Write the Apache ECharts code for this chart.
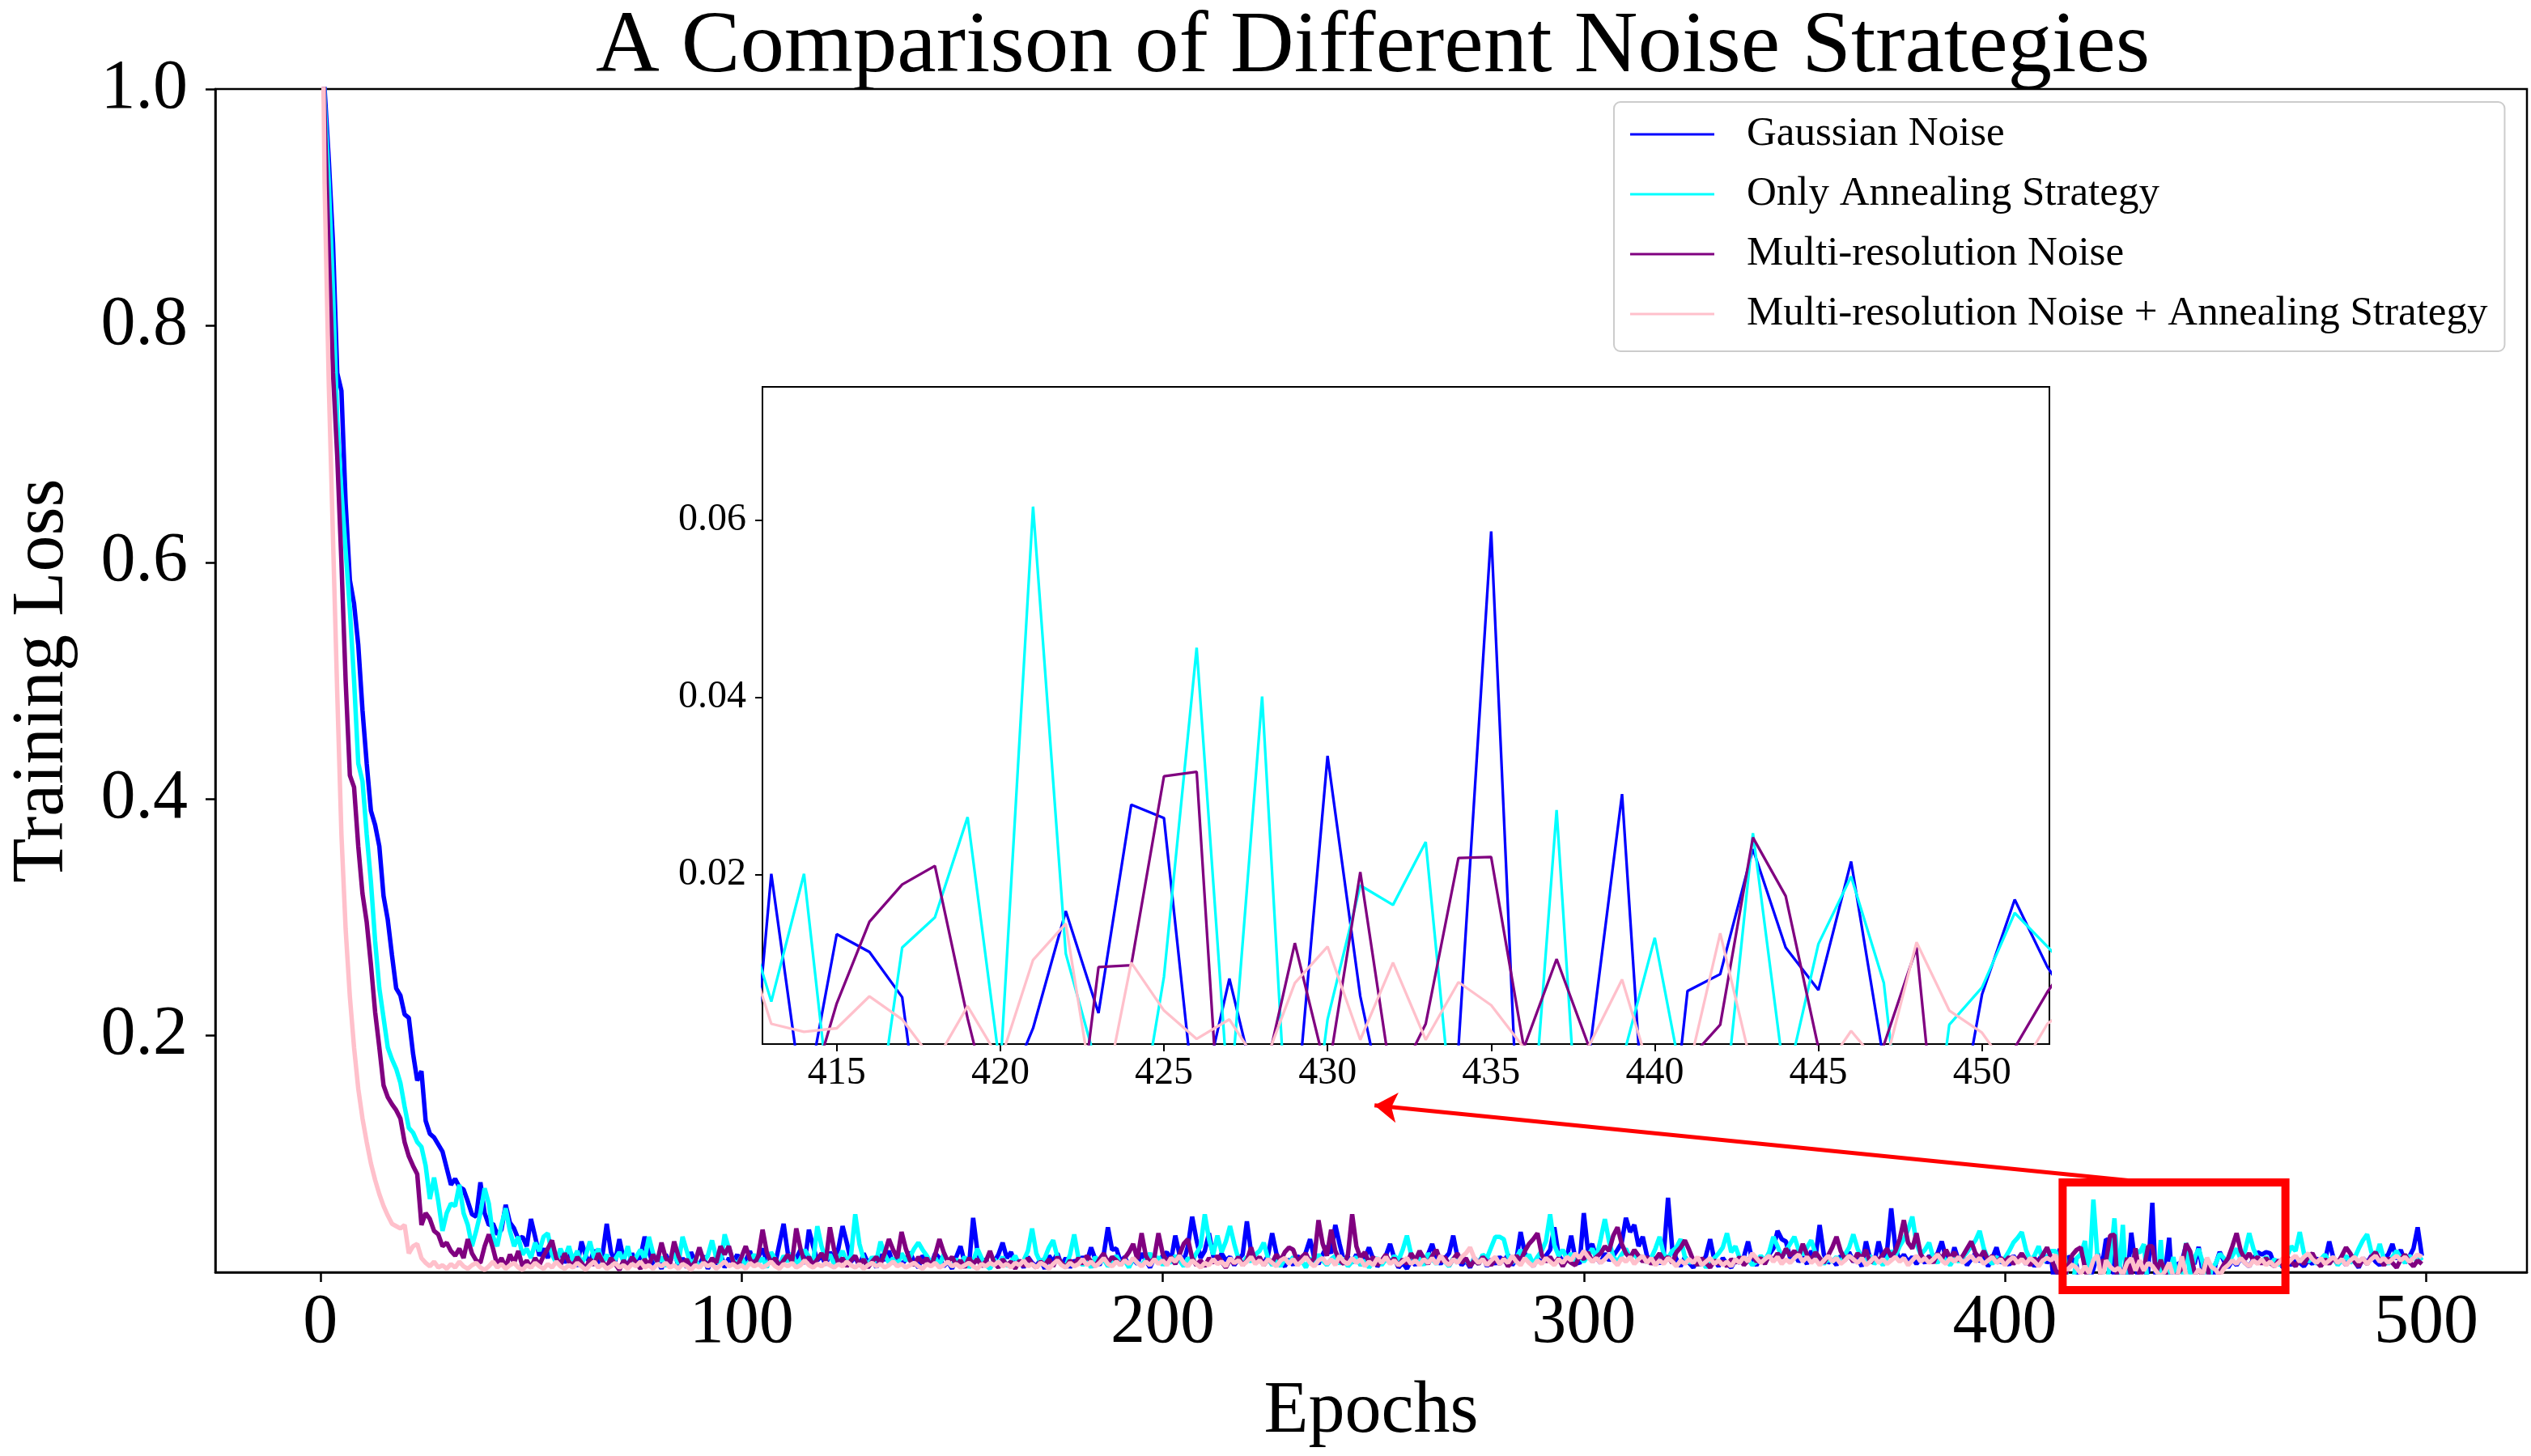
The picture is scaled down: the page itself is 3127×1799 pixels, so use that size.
<!DOCTYPE html>
<html><head><meta charset="utf-8">
<script src="https://cdn.jsdelivr.net/npm/echarts@6/dist/echarts.min.js"></script>
<style>html,body{margin:0;padding:0;background:#fff}#c{width:3127px;height:1799px}</style>
</head><body><div id="c"></div>
<script>
const titleText = 'A Comparison of Different Noise Strategies';
const seriesNames = ['Gaussian Noise', 'Only Annealing Strategy', 'Multi-resolution Noise', 'Multi-resolution Noise + Annealing Strategy'];
const seriesColors = ['#0000ff', '#00ffff', '#800080', '#ffc0cb'];

// Training loss per epoch (epochs 0..499)
const gaussian = [
1.08,1.0,0.94,0.87,0.76,0.745,0.65,0.585,0.565,0.53,
0.475,0.43,0.39,0.378,0.36,0.318,0.298,0.268,0.24,0.234,
0.218,0.215,0.185,0.162,0.17,0.128,0.117,0.114,0.108,0.102,
0.088,0.074,0.079,0.072,0.07,0.06,0.049,0.047,0.076,0.05,
0.04,0.041,0.032,0.036,0.057,0.042,0.037,0.028,0.03,0.022,
0.045,0.03,0.014,0.02,0.012,0.024,0.01,0.018,0.008,0.015,
0.012,0.005,0.026,0.014,0.008,0.019,0.006,0.015,0.041,0.017,
0.009,0.028,0.011,0.004,0.016,0.007,0.013,0.03,0.018,0.006,
0.01,0.003,0.015,0.008,0.019,0.005,0.012,0.004,0.017,0.009,
0.006,0.014,0.003,0.011,0.007,0.016,0.004,0.012,0.008,0.015,
0.005,0.01,0.018,0.006,0.013,0.02,0.009,0.015,0.007,0.024,
0.041,0.016,0.008,0.012,0.019,0.007,0.036,0.022,0.01,0.014,
0.006,0.017,0.011,0.02,0.039,0.025,0.009,0.013,0.005,0.016,
0.008,0.012,0.004,0.015,0.01,0.018,0.007,0.013,0.006,0.011,
0.017,0.009,0.004,0.014,0.01,0.006,0.016,0.012,0.005,0.009,
0.003,0.013,0.022,0.008,0.005,0.046,0.018,0.007,0.011,0.004,
0.009,0.015,0.025,0.012,0.017,0.006,0.01,0.004,0.013,0.008,
0.005,0.011,0.003,0.014,0.009,0.016,0.006,0.012,0.004,0.01,
0.007,0.013,0.009,0.021,0.011,0.006,0.015,0.038,0.019,0.02,
0.009,0.013,0.005,0.011,0.007,0.016,0.01,0.004,0.012,0.008,
0.014,0.017,0.01,0.031,0.015,0.009,0.022,0.047,0.028,0.012,
0.018,0.033,0.014,0.008,0.016,0.01,0.013,0.006,0.011,0.015,
0.043,0.017,0.009,0.012,0.007,0.014,0.033,0.016,0.008,0.005,
0.011,0.006,0.014,0.009,0.017,0.028,0.012,0.007,0.015,0.022,
0.016,0.04,0.024,0.01,0.013,0.008,0.015,0.006,0.012,0.021,
0.011,0.005,0.009,0.014,0.024,0.012,0.004,0.008,0.003,0.01,
0.006,0.013,0.008,0.015,0.024,0.011,0.007,0.012,0.016,0.031,
0.013,0.006,0.01,0.004,0.012,0.008,0.014,0.005,0.011,0.007,
0.013,0.009,0.015,0.006,0.011,0.034,0.016,0.01,0.005,0.012,
0.008,0.014,0.019,0.038,0.015,0.009,0.013,0.031,0.011,0.007,
0.05,0.018,0.024,0.012,0.008,0.016,0.01,0.014,0.019,0.025,
0.046,0.034,0.04,0.022,0.03,0.014,0.009,0.012,0.007,0.016,
0.063,0.02,0.011,0.005,0.013,0.008,0.004,0.01,0.006,0.014,
0.028,0.01,0.005,0.012,0.007,0.004,0.011,0.008,0.013,0.026,
0.01,0.006,0.012,0.009,0.015,0.02,0.035,0.028,0.026,0.012,
0.016,0.009,0.013,0.007,0.018,0.012,0.04,0.015,0.008,0.011,
0.006,0.014,0.01,0.017,0.009,0.012,0.005,0.026,0.011,0.008,
0.026,0.012,0.018,0.054,0.02,0.01,0.015,0.009,0.013,0.007,
0.012,0.008,0.014,0.01,0.016,0.026,0.012,0.007,0.021,0.01,
0.013,0.006,0.011,0.016,0.009,0.014,0.005,0.012,0.021,0.008,
0.011,0.006,0.014,0.009,0.013,0.007,0.012,0.005,0.01,0.016,
0.008,0.012,-0.021,0.0201,-0.0066,0.0133,0.0113,0.0062,-0.022,-0.014,
-0.0062,0.0027,0.0159,0.0044,0.0279,0.0264,-0.008,0.0083,-0.007,-0.0085,
0.0334,0.0063,-0.011,-0.006,0.0005,0.0587,-0.024,-0.015,-0.0002,0.0291,
-0.027,0.0069,0.0088,0.0229,0.0118,0.007,0.0215,-0.001,-0.012,-0.014,
0.0065,0.0172,0.0096,0.004,0.01,0.006,0.012,0.008,0.005,0.011,
0.017,0.015,0.017,0.016,0.006,0.01,0.004,0.009,0.006,0.012,
0.008,0.005,0.01,0.007,0.012,0.006,0.01,0.026,0.012,0.007,
0.011,0.006,0.013,0.009,0.004,0.012,0.008,0.014,0.009,0.006,
0.012,0.015,0.024,0.011,0.019,0.008,0.013,0.02,0.038,0.014
];
const annealing = [
1.1,0.99,0.92,0.83,0.72,0.66,0.61,0.56,0.5,0.43,
0.415,0.37,0.33,0.28,0.24,0.215,0.19,0.18,0.172,0.16,
0.14,0.122,0.118,0.11,0.106,0.09,0.062,0.08,0.06,0.035,
0.05,0.058,0.056,0.074,0.05,0.04,0.022,0.035,0.05,0.071,
0.058,0.03,0.022,0.04,0.054,0.035,0.022,0.03,0.015,0.02,
0.012,0.025,0.018,0.03,0.033,0.015,0.008,0.02,0.012,0.022,
0.01,0.018,0.007,0.014,0.026,0.012,0.02,0.008,0.015,0.005,
0.011,0.017,0.009,0.022,0.006,0.013,0.019,0.011,0.03,0.016,
0.008,0.013,0.005,0.01,0.016,0.007,0.03,0.018,0.006,0.011,
0.004,0.009,0.014,0.027,0.012,0.006,0.032,0.02,0.01,0.007,
0.013,0.005,0.01,0.015,0.008,0.012,0.004,0.017,0.011,0.006,
0.014,0.009,0.016,0.007,0.011,0.019,0.013,0.008,0.039,0.022,
0.01,0.015,0.007,0.012,0.018,0.009,0.014,0.049,0.024,0.011,
0.006,0.013,0.009,0.026,0.015,0.008,0.012,0.005,0.016,0.01,
0.013,0.02,0.025,0.019,0.014,0.008,0.012,0.006,0.015,0.009,
0.005,0.011,0.007,0.013,0.004,0.009,0.02,0.012,0.006,0.003,
0.011,0.007,0.013,0.005,0.009,0.014,0.006,0.01,0.018,0.037,
0.016,0.008,0.012,0.021,0.027,0.013,0.007,0.005,0.015,0.032,
0.012,0.006,0.01,0.004,0.013,0.008,0.011,0.005,0.009,0.014,
0.007,0.01,0.004,0.012,0.008,0.006,0.011,0.016,0.009,0.013,
0.006,0.011,0.008,0.014,0.01,0.005,0.012,0.009,0.016,0.022,
0.049,0.028,0.015,0.031,0.017,0.026,0.039,0.024,0.011,0.007,
0.013,0.009,0.015,0.018,0.025,0.012,0.006,0.01,0.005,0.011,
0.008,0.013,0.006,0.01,0.004,0.012,0.008,0.015,0.01,0.006,
0.011,0.014,0.007,0.012,0.005,0.009,0.013,0.006,0.01,0.004,
0.009,0.012,0.006,0.011,0.008,0.014,0.01,0.019,0.031,0.015,
0.008,0.012,0.006,0.016,0.011,0.007,0.013,0.009,0.005,0.012,
0.008,0.014,0.01,0.006,0.011,0.007,0.015,0.012,0.021,0.03,
0.03,0.028,0.014,0.008,0.012,0.019,0.01,0.015,0.007,0.013,
0.018,0.026,0.049,0.023,0.014,0.019,0.011,0.016,0.008,0.013,
0.009,0.014,0.02,0.012,0.028,0.045,0.026,0.013,0.009,0.015,
0.02,0.012,0.016,0.01,0.014,0.008,0.012,0.02,0.03,0.015,
0.012,0.018,0.021,0.028,0.013,0.008,0.011,0.006,0.01,0.004,
0.009,0.012,0.016,0.021,0.033,0.017,0.022,0.012,0.007,0.011,
0.006,0.009,0.014,0.01,0.017,0.03,0.022,0.013,0.018,0.024,
0.03,0.019,0.015,0.021,0.027,0.016,0.012,0.007,0.011,0.009,
0.013,0.008,0.015,0.021,0.032,0.02,0.012,0.009,0.014,0.007,
0.011,0.006,0.012,0.018,0.014,0.022,0.028,0.036,0.047,0.024,
0.015,0.019,0.025,0.012,0.008,0.014,0.01,0.006,0.012,0.009,
0.013,0.017,0.022,0.027,0.035,0.02,0.011,0.007,0.013,0.009,
0.012,0.018,0.025,0.029,0.034,0.019,0.01,0.014,0.022,0.009,
0.013,0.018,0.0179,0.0057,0.0201,-0.013,-0.014,0.0118,0.0152,0.0265,
-0.002,0.0615,0.0111,-0.0023,-0.0137,0.0085,0.0456,-0.0066,0.0401,-0.025,
0.0037,0.0188,0.0166,0.0237,-0.0143,-0.018,-0.0215,0.0273,-0.03,-0.001,
0.0129,-0.0064,-0.011,0.0247,-0.004,0.0122,0.0198,0.0078,-0.025,0.0031,
0.0073,0.0157,0.0119,0.008,0.014,0.02,0.011,0.018,0.033,0.02,
0.012,0.009,0.013,0.007,0.011,0.006,0.009,0.014,0.022,0.018,
0.034,0.016,0.009,0.012,0.007,0.011,0.015,0.009,0.013,0.006,
0.01,0.014,0.008,0.012,0.02,0.027,0.032,0.017,0.012,0.024,
0.011,0.007,0.013,0.018,0.012,0.008,0.014,0.011,0.015,0.01
];
const multiRes = [
1.12,0.98,0.86,0.76,0.69,0.6,0.5,0.42,0.41,0.36,
0.32,0.296,0.26,0.22,0.19,0.158,0.148,0.142,0.137,0.13,
0.11,0.098,0.09,0.083,0.04,0.05,0.045,0.035,0.032,0.022,
0.025,0.018,0.014,0.02,0.012,0.028,0.016,0.01,0.008,0.022,
0.032,0.02,0.006,0.012,0.004,0.015,0.008,0.018,0.005,0.01,
0.004,0.012,0.006,0.014,0.02,0.027,0.012,0.006,0.016,0.009,
0.005,0.013,0.008,0.003,0.011,0.006,0.016,0.009,0.004,0.012,
0.007,0.002,0.01,0.005,0.013,0.008,0.003,0.011,0.006,0.015,
0.009,0.025,0.012,0.007,0.026,0.014,0.006,0.011,0.004,0.009,
0.021,0.01,0.005,0.012,0.008,0.022,0.015,0.022,0.009,0.005,
0.013,0.022,0.011,0.006,0.014,0.036,0.017,0.008,0.012,0.005,
0.01,0.015,0.009,0.037,0.02,0.008,0.013,0.006,0.011,0.016,
0.009,0.038,0.019,0.007,0.012,0.005,0.01,0.014,0.006,0.011,
0.004,0.009,0.013,0.007,0.016,0.028,0.019,0.012,0.034,0.02,
0.01,0.006,0.013,0.008,0.012,0.005,0.015,0.028,0.017,0.009,
0.013,0.006,0.01,0.004,0.012,0.007,0.011,0.005,0.009,0.018,
0.008,0.004,0.011,0.006,0.009,0.003,0.01,0.005,0.012,0.007,
0.004,0.009,0.006,0.011,0.005,0.013,0.008,0.004,0.01,0.006,
0.012,0.007,0.014,0.009,0.005,0.011,0.016,0.008,0.013,0.01,
0.006,0.012,0.017,0.024,0.011,0.033,0.014,0.008,0.012,0.033,
0.016,0.009,0.013,0.007,0.015,0.024,0.028,0.012,0.006,0.01,
0.005,0.012,0.008,0.014,0.009,0.004,0.011,0.007,0.013,0.006,
0.01,0.021,0.009,0.013,0.006,0.011,0.008,0.015,0.01,0.017,
0.021,0.019,0.009,0.013,0.016,0.008,0.012,0.044,0.024,0.014,
0.036,0.018,0.01,0.007,0.015,0.049,0.022,0.012,0.017,0.008,
0.013,0.006,0.01,0.015,0.008,0.012,0.005,0.011,0.007,0.016,
0.01,0.018,0.012,0.007,0.014,0.019,0.009,0.013,0.006,0.011,
0.016,0.008,0.012,0.005,0.01,0.007,0.013,0.009,0.006,0.011,
0.007,0.012,0.005,0.009,0.014,0.01,0.018,0.024,0.028,0.033,
0.015,0.009,0.013,0.007,0.012,0.005,0.011,0.008,0.006,0.014,
0.011,0.017,0.009,0.013,0.016,0.022,0.018,0.031,0.038,0.024,
0.016,0.012,0.019,0.014,0.009,0.013,0.007,0.011,0.016,0.01,
0.013,0.008,0.017,0.021,0.027,0.019,0.01,0.006,0.012,0.008,
0.004,0.01,0.007,0.009,0.005,0.011,0.008,0.013,0.006,0.01,
0.015,0.009,0.012,0.007,0.014,0.01,0.016,0.012,0.02,0.014,
0.018,0.013,0.024,0.015,0.01,0.017,0.012,0.008,0.014,0.021,
0.03,0.018,0.011,0.014,0.009,0.016,0.012,0.019,0.008,0.013,
0.01,0.015,0.02,0.013,0.018,0.028,0.044,0.025,0.02,0.033,
0.015,0.01,0.013,0.008,0.016,0.011,0.019,0.012,0.017,0.01,
0.014,0.02,0.026,0.016,0.012,0.018,0.01,0.014,0.008,0.012,
0.009,0.013,0.007,0.011,0.016,0.01,0.006,0.012,0.008,0.015,
0.021,0.012,0.002,-0.004,-0.007,0.0055,0.0147,0.0189,0.021,0.0038,
-0.011,-0.012,-0.02,0.0096,0.0098,0.0311,0.0316,-0.026,-0.004,0.0123,
-0.0028,0.0203,-0.0043,0.0032,0.0219,0.022,0.0005,0.0105,0.0005,-0.008,
-0.01,-0.001,0.0031,0.0242,0.0176,0.0005,-0.008,0.0008,0.0118,-0.025,
-0.01,0.0005,0.0068,0.012,0.022,0.033,0.018,0.011,0.016,0.01,
0.013,0.007,0.012,0.008,0.005,0.01,0.006,0.013,0.009,0.005,
0.011,0.007,0.013,0.016,0.009,0.005,0.011,0.007,0.012,0.008,
0.014,0.021,0.016,0.009,0.005,0.011,0.007,0.013,0.017,0.01,
0.006,0.012,0.008,0.004,0.011,0.015,0.009,0.005,0.01,0.007
];
const multiResAnnealing = [
1.25,0.92,0.75,0.62,0.49,0.37,0.29,0.233,0.19,0.155,
0.13,0.11,0.092,0.078,0.066,0.056,0.048,0.041,0.039,0.037,
0.04,0.016,0.022,0.024,0.012,0.008,0.005,0.009,0.004,0.006,
0.003,0.007,0.004,0.009,0.005,0.003,0.006,0.008,0.004,0.002,
0.005,0.009,0.004,0.007,0.003,0.006,0.008,0.004,0.002,0.006,
0.004,0.008,0.005,0.003,0.007,0.004,0.009,0.005,0.003,0.006,
0.004,0.008,0.005,0.002,0.006,0.009,0.004,0.007,0.003,0.005,
0.008,0.004,0.006,0.003,0.007,0.005,0.009,0.004,0.006,0.003,
0.007,0.005,0.008,0.004,0.006,0.003,0.007,0.005,0.002,0.006,
0.004,0.008,0.005,0.007,0.003,0.006,0.009,0.005,0.007,0.004,
0.006,0.003,0.008,0.005,0.007,0.004,0.006,0.009,0.005,0.003,
0.007,0.005,0.008,0.004,0.006,0.01,0.006,0.004,0.007,0.005,
0.008,0.006,0.004,0.007,0.005,0.009,0.006,0.004,0.007,0.003,
0.006,0.008,0.005,0.007,0.004,0.006,0.009,0.005,0.007,0.004,
0.006,0.008,0.005,0.003,0.007,0.005,0.008,0.004,0.006,0.009,
0.005,0.007,0.004,0.006,0.008,0.005,0.003,0.007,0.005,0.008,
0.006,0.009,0.005,0.007,0.004,0.008,0.006,0.01,0.005,0.007,
0.004,0.008,0.006,0.003,0.007,0.01,0.006,0.004,0.008,0.005,
0.007,0.011,0.006,0.009,0.005,0.008,0.012,0.007,0.005,0.009,
0.006,0.01,0.007,0.012,0.008,0.005,0.009,0.006,0.011,0.007,
0.01,0.006,0.012,0.009,0.014,0.008,0.005,0.01,0.007,0.004,
0.008,0.006,0.011,0.007,0.009,0.005,0.012,0.008,0.01,0.006,
0.009,0.013,0.007,0.01,0.006,0.011,0.008,0.005,0.01,0.012,
0.007,0.011,0.006,0.009,0.013,0.008,0.005,0.01,0.012,0.007,
0.011,0.006,0.014,0.009,0.007,0.012,0.008,0.011,0.005,0.009,
0.006,0.012,0.008,0.013,0.007,0.01,0.006,0.009,0.012,0.007,
0.01,0.006,0.011,0.008,0.012,0.007,0.014,0.009,0.006,0.011,
0.008,0.013,0.016,0.021,0.012,0.008,0.011,0.006,0.01,0.013,
0.007,0.011,0.008,0.014,0.009,0.006,0.012,0.008,0.005,0.01,
0.007,0.012,0.009,0.006,0.011,0.008,0.013,0.01,0.016,0.012,
0.018,0.013,0.009,0.012,0.008,0.011,0.015,0.01,0.006,0.012,
0.009,0.013,0.007,0.011,0.014,0.008,0.012,0.006,0.01,0.007,
0.012,0.009,0.005,0.01,0.007,0.011,0.008,0.013,0.006,0.009,
0.012,0.007,0.01,0.006,0.009,0.005,0.011,0.008,0.013,0.009,
0.016,0.012,0.008,0.011,0.014,0.009,0.013,0.007,0.011,0.008,
0.012,0.015,0.009,0.013,0.008,0.011,0.006,0.01,0.014,0.009,
0.012,0.007,0.01,0.014,0.011,0.008,0.012,0.006,0.009,0.013,
0.008,0.011,0.007,0.01,0.013,0.009,0.012,0.006,0.01,0.014,
0.009,0.012,0.008,0.011,0.015,0.01,0.007,0.012,0.009,0.013,
0.008,0.011,0.014,0.009,0.012,0.007,0.01,0.013,0.008,0.011,
0.006,0.01,0.013,0.008,0.011,0.007,0.012,0.009,0.005,0.01,
0.012,0.01,0.0147,0.0032,0.0023,0.0027,0.0063,0.0037,-0.0012,0.0052,
-0.001,0.0104,0.0145,-0.0085,0.0101,0.0047,0.0015,0.0037,-0.002,0.0078,
0.0119,0.0014,0.0101,0.0014,0.0079,0.0053,0.0005,-0.004,0.0008,0.0082,
-0.004,-0.0025,0.0134,-0.0022,-0.005,-0.003,0.0024,-0.002,0.0124,0.0047,
0.0022,-0.003,0.0032,0.006,0.01,0.007,0.012,0.008,0.005,0.01,
0.007,0.011,0.006,0.009,0.005,0.008,0.012,0.007,0.011,0.014,
0.009,0.013,0.016,0.011,0.008,0.012,0.007,0.01,0.013,0.008,
0.011,0.006,0.01,0.013,0.009,0.012,0.007,0.011,0.014,0.009,
0.012,0.008,0.011,0.014,0.01,0.013,0.009,0.012,0.015,0.013
];

const xTicks = [0, 100, 200, 300, 400, 500];
const yTicks = [0.2, 0.4, 0.6, 0.8, 1.0];
const insetXTicks = [415, 420, 425, 430, 435, 440, 445, 450];
const insetYTicks = [0.02, 0.04, 0.06];
const mainXRange = [-24.95, 523.95];
const mainYRange = [0, 1];
const insetXRange = [412.73, 452.06];
const insetYRange = [0.00092, 0.075];
const insetEpochs = [411, 454];
// zoom box (data space of main axes) and arrow end points
const zoomBoxX = [413.7, 466.6];
const zoomBoxY = [-0.015, 0.0759];
const arrowFrom = [436.5, 0.075];
const arrowTo = [250.3, 0.141];

const allSeries = [gaussian, annealing, multiRes, multiResAnnealing];
const FONT = 'Liberation Serif';

const chart = echarts.init(document.getElementById('c'), null, {renderer: 'canvas', width: 3127, height: 1799});

const series = [];
allSeries.forEach((arr, k) => {
  series.push({
    name: seriesNames[k], type: 'line', xAxisIndex: 0, yAxisIndex: 0,
    data: arr.map((v, i) => [i, v]), symbol: 'none', showSymbol: false,
    lineStyle: {color: seriesColors[k], width: 5.5}, itemStyle: {color: seriesColors[k]},
    z: 2 + k, animation: false, silent: true
  });
});
allSeries.forEach((arr, k) => {
  const pts = [];
  arr.forEach((v, i) => { if (i >= insetEpochs[0] && i <= insetEpochs[1]) pts.push([i, v]); });
  series.push({
    name: seriesNames[k], type: 'line', xAxisIndex: 1, yAxisIndex: 1,
    data: pts, symbol: 'none', showSymbol: false,
    lineStyle: {color: seriesColors[k], width: 3.3}, itemStyle: {color: seriesColors[k]},
    z: 12 + k, animation: false, silent: true
  });
});
series.push({
  name: 'zoomBox', type: 'line', xAxisIndex: 0, yAxisIndex: 0, clip: false,
  data: [[zoomBoxX[0], zoomBoxY[1]], [zoomBoxX[1], zoomBoxY[1]], [zoomBoxX[1], zoomBoxY[0]], [zoomBoxX[0], zoomBoxY[0]], [zoomBoxX[0], zoomBoxY[1]]],
  symbol: 'none', lineStyle: {color: '#ff0000', width: 10, join: 'miter', cap: 'square'},
  z: 20, animation: false, silent: true,
  markLine: {
    silent: true, animation: false, symbol: ['none', 'arrow'], symbolSize: 28,
    lineStyle: {color: '#ff0000', width: 5, type: 'solid'}, itemStyle: {color: '#ff0000'}, label: {show: false},
    data: [[{coord: arrowFrom}, {coord: arrowTo}]]
  }
});

const tickStyle = (w) => ({color: '#000', width: w});
chart.setOption({
  animation: false,
  backgroundColor: '#ffffff',
  title: {
    text: titleText, left: 1691, textAlign: 'center', top: 0,
    textStyle: {fontFamily: FONT, fontSize: 109, fontWeight: 'normal', color: '#000'}
  },
  legend: {
    data: seriesNames, orient: 'vertical', left: 1994, top: 126,
    icon: 'rect', itemWidth: 104, itemHeight: 3, itemGap: 14, padding: [10, 21, 16, 20],
    backgroundColor: 'rgba(255,255,255,0.8)', borderColor: '#cccccc', borderWidth: 2, borderRadius: 8,
    selectedMode: false,
    textStyle: {fontFamily: FONT, fontSize: 51, color: '#000', lineHeight: 60, padding: [0, 0, 0, 35]}
  },
  grid: [
    {left: 260, top: 110, width: 2862, height: 1462, show: true, borderColor: '#000', borderWidth: 2.5, backgroundColor: 'transparent', containLabel: false},
    {left: 942, top: 478, width: 1590, height: 812, show: true, borderColor: '#000', borderWidth: 2, backgroundColor: '#ffffff', containLabel: false}
  ],
  xAxis: [
    {
      gridIndex: 0, type: 'value', min: mainXRange[0], max: mainXRange[1],
      axisLine: {show: true, onZero: false, lineStyle: tickStyle(2.5)},
      axisTick: {show: true, customValues: xTicks, length: 12, lineStyle: tickStyle(2.5)},
      axisLabel: {customValues: xTicks, fontFamily: FONT, fontSize: 86, color: '#000', margin: 20},
      splitLine: {show: false},
      name: 'Epochs', nameLocation: 'middle', nameGap: 128,
      nameTextStyle: {fontFamily: FONT, fontSize: 90, color: '#000'}
    },
    {
      gridIndex: 1, type: 'value', min: insetXRange[0], max: insetXRange[1],
      axisLine: {show: true, onZero: false, lineStyle: tickStyle(2)},
      axisTick: {show: true, customValues: insetXTicks, length: 9, lineStyle: tickStyle(2)},
      axisLabel: {customValues: insetXTicks, fontFamily: FONT, fontSize: 48, color: '#000', margin: 12},
      splitLine: {show: false}
    }
  ],
  yAxis: [
    {
      gridIndex: 0, type: 'value', min: mainYRange[0], max: mainYRange[1],
      axisLine: {show: true, onZero: false, lineStyle: tickStyle(2.5)},
      axisTick: {show: true, customValues: yTicks, length: 12, lineStyle: tickStyle(2.5)},
      axisLabel: {customValues: yTicks, fontFamily: FONT, fontSize: 86, color: '#000', margin: 34, formatter: v => v.toFixed(1)},
      splitLine: {show: false},
      name: 'Training Loss', nameLocation: 'middle', nameRotate: 90, nameGap: 168,
      nameTextStyle: {fontFamily: FONT, fontSize: 90, color: '#000'}
    },
    {
      gridIndex: 1, type: 'value', min: insetYRange[0], max: insetYRange[1],
      axisLine: {show: true, onZero: false, lineStyle: tickStyle(2)},
      axisTick: {show: true, customValues: insetYTicks, length: 9, lineStyle: tickStyle(2)},
      axisLabel: {customValues: insetYTicks, fontFamily: FONT, fontSize: 48, color: '#000', margin: 20, formatter: v => v.toFixed(2)},
      splitLine: {show: false}
    }
  ],
  series: series
});
</script></body></html>
